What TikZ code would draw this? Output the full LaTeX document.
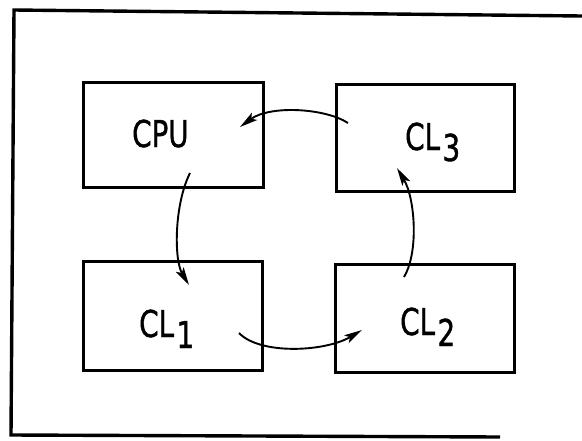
\documentclass[tikz,border=0pt]{standalone}
\usepackage{fontspec}
\newfontfamily\lblfont[FakeStretch=0.75,FakeBold=1]{DejaVu Sans}
\usetikzlibrary{calc,arrows.meta}
\tikzset{
  boxnode/.style={draw, line width=3pt, minimum width=#1, inner sep=0pt},
  lbl/.style={font=\lblfont\fontsize{37}{40}\selectfont, inner sep=0pt, anchor=base west},
  conn/.style={line width=1.9pt, -{Stealth[length=18pt,width=9pt,inset=4pt]}},
  framel/.style={line width=3.4pt, line join=miter}
}
\newcommand{\lowsub}[1]{\hspace{2.5pt}\raisebox{-11pt}{#1}}
\begin{document}
\begin{tikzpicture}[x=1pt,y=-1pt]
\useasboundingbox (0,0) rectangle (582,440);
% outer frame (open on the right)
\draw[framel] (582,16) -- (14,10) -- (11,435) -- (500,437);
% boxes
\node[boxnode=180pt, minimum height=105pt] (cpu) at (173,134.5) {};
\node[boxnode=178pt, minimum height=107pt] (cl3) at (425,137.5) {};
\node[boxnode=179pt, minimum height=109pt] (cl1) at (172.5,315.5) {};
\node[boxnode=179pt, minimum height=108pt] (cl2) at (424.5,318) {};
% labels
\node[lbl] (tcpu) at (132,147) {CPU};
\node[lbl] (tcl3) at (405,150) {CL\lowsub{3}};
\node[lbl] (tcl1) at (139,337) {CL\lowsub{1}};
\node[lbl] (tcl2) at (400,335) {CL\lowsub{2}};
% connectors
\draw[conn] ($(cl3.center)+(-77,-14.5)$) .. controls (325,108) and (270,105) .. ($(cpu.center)+(67,-7.5)$);
\draw[conn] ($(cpu.center)+(17,38.5)$) .. controls (174,205) and (174,260) .. ($(cl1.center)+(16.5,-30.5)$);
\draw[conn] ($(cl1.center)+(66.5,17.5)$) .. controls (260,355) and (325,352) .. ($(cl2.center)+(-62.5,12)$);
\draw[conn] ($(cl2.center)+(-20.5,-41)$) .. controls (419,252) and (415,198) .. ($(cl3.center)+(-28,30.5)$);
\end{tikzpicture}
\end{document}
